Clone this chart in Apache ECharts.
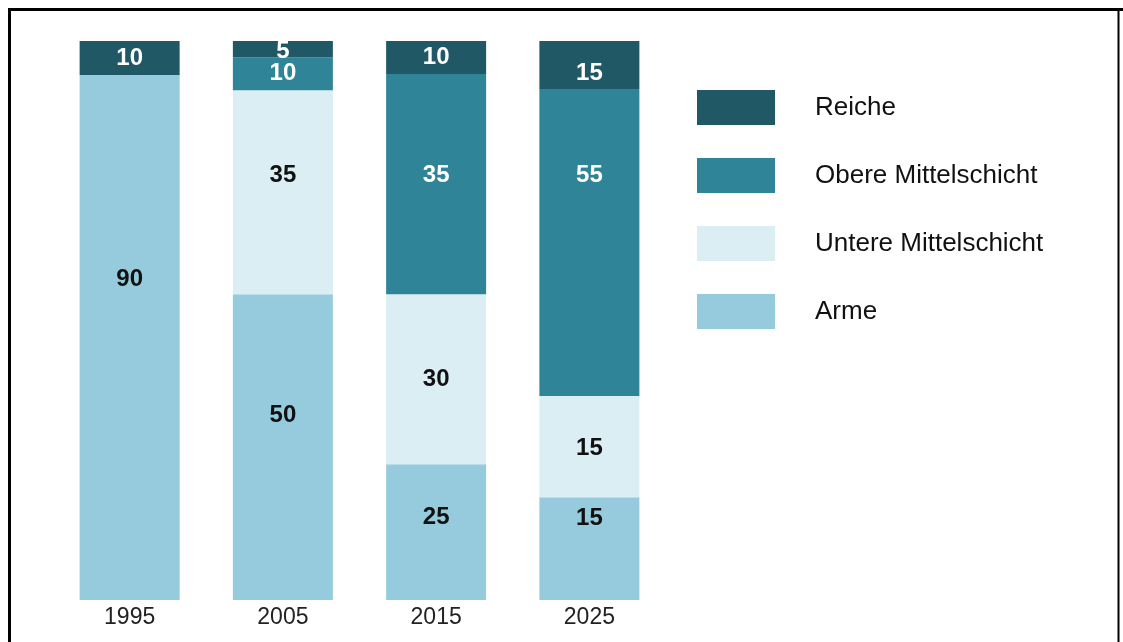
<!DOCTYPE html>
<html>
<head>
<meta charset="utf-8">
<script src="https://cdn.jsdelivr.net/npm/echarts@6/dist/echarts.min.js"></script>
<style>
  html, body { margin: 0; padding: 0; background: #fff; }
  #chart { width: 1123px; height: 642px; }
</style>
</head>
<body>
<div id="chart"></div>
<script>
// Jahre
var years = ['1995', '2005', '2015', '2025'];

// Segmenthöhen wie im Bild gezeichnet (Anteil der Säule in %)
var arme   = [93.9, 54.7, 24.3, 18.4];
var untere = ['-', 36.5, 30.4, 18.1];
var obere  = ['-', 5.9, 39.4, 54.9];
var reiche = [6.1, 2.9, 5.9, 8.6];

// Beschriftungen in den Segmenten
var armeLbl   = [90, 50, 25, 15];
var untereLbl = [null, 35, 30, 15];
var obereLbl  = [null, 10, 35, 55];
var reicheLbl = [10, 5, 10, 15];

var font = "'Liberation Sans', Arial, sans-serif";

// Verschiebung der Beschriftung (px, senkrecht) – Layout, nicht Daten
var lblShift = {
    'Arme': [-58, -32, -15, -30],
    'Untere Mittelschicht': [0, -17, 0, 2],
    'Obere Mittelschicht': [0, 0, -9, -67],
    'Reiche': [0, 2, 0, 8]
};

function makeSeries(name, values, labels, color, textColor) {
    var shift = lblShift[name];
    return {
        name: name,
        type: 'bar',
        stack: 'gesamt',
        barWidth: 100,
        data: values.map(function(v, i) {
            return { value: v, label: { offset: [0, shift[i]] } };
        }),
        itemStyle: { color: color },
        label: {
            show: true,
            position: 'inside',
            color: textColor,
            fontFamily: font,
            fontWeight: 'bold',
            fontSize: 24,
            formatter: function(p) {
                var v = labels[p.dataIndex];
                return v == null ? '' : String(v);
            }
        },
        emphasis: { disabled: true }
    };
}

var myChart = echarts.init(document.getElementById('chart'), null, { renderer: 'canvas' });

var option = {
    animation: false,
    backgroundColor: '#fff',
    grid: { left: 53, right: 457, top: 41, bottom: 42 },
    xAxis: {
        type: 'category',
        data: years,
        axisLine: { show: false },
        axisTick: { show: false },
        axisLabel: {
            color: '#222',
            fontFamily: font,
            fontSize: 23,
            margin: 6
        }
    },
    yAxis: {
        type: 'value',
        min: 0,
        max: 100,
        show: false
    },
    legend: {
        orient: 'vertical',
        left: 692,
        top: 85,
        itemWidth: 78,
        itemHeight: 35,
        itemGap: 33,
        icon: 'rect',
        data: ['Reiche', 'Obere Mittelschicht', 'Untere Mittelschicht', 'Arme'],
        selectedMode: false,
        textStyle: {
            color: '#111',
            fontFamily: font,
            fontSize: 26,
            padding: [0, 0, 0, 35]
        }
    },
    graphic: [
        { type: 'line', shape: { x1: 8, y1: 9.5, x2: 1123, y2: 9.5 }, style: { stroke: '#000', lineWidth: 3 } },
        { type: 'line', shape: { x1: 9.5, y1: 8, x2: 9.5, y2: 642 }, style: { stroke: '#000', lineWidth: 3 } },
        { type: 'line', shape: { x1: 1118.5, y1: 8, x2: 1118.5, y2: 642 }, style: { stroke: '#000', lineWidth: 2 } }
    ],
    series: [
        makeSeries('Arme', arme, armeLbl, '#95cbdc', '#111'),
        makeSeries('Untere Mittelschicht', untere, untereLbl, '#dbeef4', '#111'),
        makeSeries('Obere Mittelschicht', obere, obereLbl, '#2f8498', '#fff'),
        makeSeries('Reiche', reiche, reicheLbl, '#215866', '#fff')
    ]
};

myChart.setOption(option);
</script>
</body>
</html>
